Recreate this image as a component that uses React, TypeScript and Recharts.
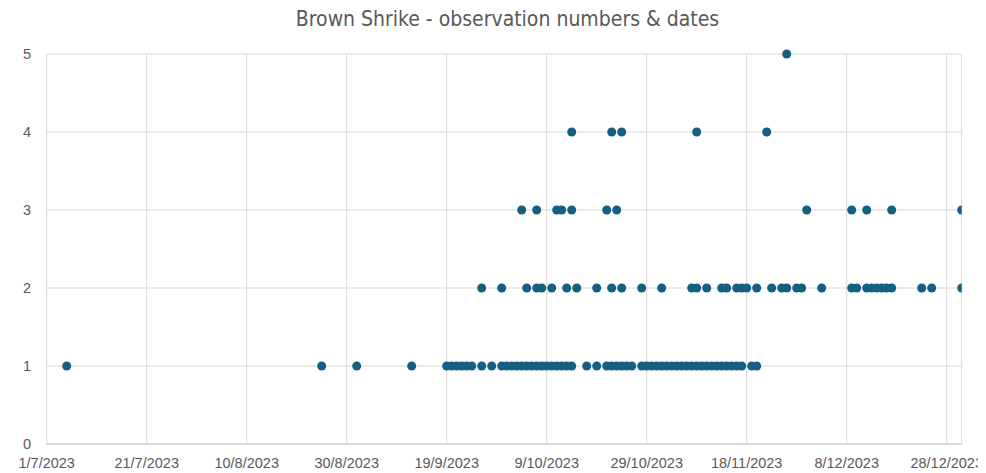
import React from "react";
import { ScatterChart, Scatter, XAxis, YAxis, CartesianGrid } from "recharts";

// Observation dates (d/m, all 2023) grouped by number of birds observed
const count1Dates = [
  "5/7", "25/8", "1/9", "12/9",
  "19/9", "20/9", "21/9", "22/9", "23/9", "24/9", "26/9", "28/9", "30/9",
  "1/10", "2/10", "3/10", "4/10", "5/10", "6/10", "7/10", "8/10", "9/10", "10/10",
  "11/10", "12/10", "13/10", "14/10", "17/10", "19/10",
  "21/10", "22/10", "23/10", "24/10", "25/10", "26/10",
  "28/10", "29/10", "30/10", "31/10",
  "1/11", "2/11", "3/11", "4/11", "5/11", "6/11", "7/11", "8/11", "9/11", "10/11",
  "11/11", "12/11", "13/11", "14/11", "15/11", "16/11", "17/11", "19/11", "20/11",
];
const count2Dates = [
  "26/9", "30/9", "5/10", "7/10", "8/10", "10/10", "13/10", "15/10", "19/10", "22/10",
  "24/10", "28/10", "1/11", "7/11", "8/11", "10/11", "13/11", "14/11", "16/11", "17/11",
  "18/11", "20/11", "23/11", "25/11", "26/11", "28/11", "29/11", "3/12", "9/12", "10/12",
  "12/12", "13/12", "14/12", "15/12", "16/12", "17/12", "23/12", "25/12", "31/12",
];
const count3Dates = [
  "4/10", "7/10", "11/10", "12/10", "14/10", "21/10", "23/10", "30/11", "9/12", "12/12",
  "17/12", "31/12",
];
const count4Dates = ["14/10", "22/10", "24/10", "8/11", "22/11"];
const count5Dates = ["26/11"];

const xTickLabels = [
  "1/7/2023", "21/7/2023", "10/8/2023", "30/8/2023", "19/9/2023",
  "9/10/2023", "29/10/2023", "18/11/2023", "8/12/2023", "28/12/2023",
];
const yTicks = [0, 1, 2, 3, 4, 5];

const parseDM = (s: string) => {
  const [d, m] = s.split("/").map(Number);
  return Date.UTC(2023, m - 1, d);
};
const parseDMY = (s: string) => {
  const [d, m, y] = s.split("/").map(Number);
  return Date.UTC(y, m - 1, d);
};

const groups: [number, string[]][] = [
  [1, count1Dates],
  [2, count2Dates],
  [3, count3Dates],
  [4, count4Dates],
  [5, count5Dates],
];
const data = groups.flatMap(([n, dates]) => dates.map((d) => ({ date: parseDM(d), count: n })));

const xTicks = xTickLabels.map(parseDMY);
const xMin = parseDMY("1/7/2023");
const xMax = parseDMY("31/12/2023");

const fmt = (t: number) => {
  const d = new Date(t);
  return `${d.getUTCDate()}/${d.getUTCMonth() + 1}/${d.getUTCFullYear()}`;
};

const COLOR = "#156082";
const TICK_FONT = "'Liberation Sans', Arial, sans-serif";

export default function App() {
  return (
    <div style={{ position: "relative", width: 978, height: 465, fontFamily: TICK_FONT }}>
      <div
        style={{
          position: "absolute",
          top: -1,
          left: 0,
          width: 999,
          textAlign: "center",
          fontFamily: "'Liberation Sans Narrow', 'DejaVu Sans Condensed', sans-serif",
          fontSize: 21,
          color: "#595959",
          lineHeight: "24px",
        }}
      >
        Brown Shrike - observation numbers &amp; dates
      </div>
      <ScatterChart
        width={978}
        height={465}
        margin={{ top: 46, right: 24.3, bottom: 4, left: 7.7 }}
      >
        <CartesianGrid stroke="#d9d9d9" strokeWidth={1} />
        <XAxis
          type="number"
          dataKey="date"
          domain={[xMin, xMax]}
          ticks={xTicks}
          tickFormatter={fmt}
          allowDataOverflow
          height={25}
          stroke="#c8c8c8"
          tickLine={false}
          tick={{ fill: "#595959", fontSize: 14.5, fontFamily: TICK_FONT }}
          tickMargin={8}
          interval={0}
        />
        <YAxis
          type="number"
          dataKey="count"
          domain={[0, 5]}
          ticks={yTicks}
          width={31}
          axisLine={false}
          tickLine={false}
          tick={{ fill: "#595959", fontSize: 14.5, fontFamily: TICK_FONT }}
          tickMargin={9.5}
        />
        <Scatter data={data} fill={COLOR} isAnimationActive={false} shape={(p: any) => (
          <circle cx={p.cx} cy={p.cy} r={4.5} fill={COLOR} />
        )} />
      </ScatterChart>
    </div>
  );
}
